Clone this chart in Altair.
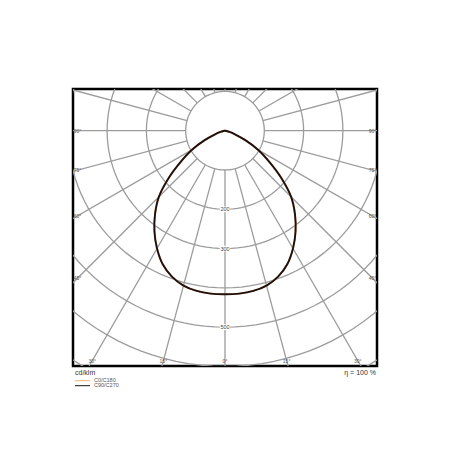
import altair as alt
import pandas as pd

# ---------------- data ----------------
gamma_deg = [0, 5, 10, 15, 20, 25, 30, 35, 40, 45, 50, 55, 60, 65, 70, 75, 80, 85, 90]
c0_c180 = [416, 416, 414, 408, 395, 375, 346, 313, 277, 238, 187, 137, 97, 57, 27, 12, 4, 1, 0]
c90_c270 = [416, 416, 414, 408, 395, 375, 346, 313, 277, 238, 187, 137, 97, 57, 27, 12, 4, 1, 0]
series_names = ["C0/C180", "C90/C270"]
series_colors = ["#f4b27a", "#1c1010"]

circle_values = [100, 200, 300, 400, 500, 600, 700]
circle_labels = [200, 300, 500]
spoke_angles = list(range(0, 360, 15))
side_label_angles = [90, 75, 60, 45]
bottom_label_angles = [-30, -15, 0, 15, 30]
unit_text = "cd/klm"
eff_text = "η = 100 %"

# ---------------- layout (view extent in cd/klm) ----------------
XMAX = 386.8
YTOP = 106.1
YBOT = -598.7
W, H = 304, 277
FONT = "Liberation Sans"
GRID = "#9c9c9c"

xs = alt.Scale(domain=[-XMAX, XMAX], nice=False, zero=False)
ys = alt.Scale(domain=[YBOT, YTOP], nice=False, zero=False)


def X(f):
    return alt.X(f, type="quantitative", scale=xs, axis=None)


def Y(f):
    return alt.Y(f, type="quantitative", scale=ys, axis=None)


# curve table
rows = []
for name, vals in zip(series_names, [c0_c180, c90_c270]):
    for g, v in zip(gamma_deg, vals):
        rows.append({"series": name, "a": g, "I": v})
        if g != 0:
            rows.append({"series": name, "a": -g, "I": v})
curve_df = pd.DataFrame(rows)

circ_df = pd.DataFrame(
    [{"r": r, "t": t} for r in circle_values for t in range(0, 361, 3)]
)
spoke_df = pd.DataFrame(
    [{"a": a, "r": r} for a in spoke_angles for r in (100, 900)]
)
vlab_df = pd.DataFrame({"v": circle_labels})
side_df = pd.DataFrame(
    [{"g": g, "s": s} for g in side_label_angles for s in (-1, 1)]
)
bot_df = pd.DataFrame({"g": bottom_label_angles})

circles = (
    alt.Chart(circ_df)
    .mark_line(clip=True, color=GRID, strokeWidth=1.3)
    .transform_calculate(
        x="datum.r * sin(datum.t * PI / 180)",
        y="-datum.r * cos(datum.t * PI / 180)",
    )
    .encode(x=X("x"), y=Y("y"), detail="r:N", order="t:Q")
)

spokes = (
    alt.Chart(spoke_df)
    .mark_line(clip=True, color=GRID, strokeWidth=1.3)
    .transform_calculate(
        x="datum.r * sin(datum.a * PI / 180)",
        y="-datum.r * cos(datum.a * PI / 180)",
    )
    .encode(x=X("x"), y=Y("y"), detail="a:N", order="r:Q")
)

vlab_bg = (
    alt.Chart(vlab_df)
    .mark_point(
        shape="M-1,-0.55H1V0.55H-1Z", filled=True, color="white", opacity=1, size=110
    )
    .transform_calculate(x="0", y="-datum.v")
    .encode(x=X("x"), y=Y("y"))
)
vlab = (
    alt.Chart(vlab_df)
    .mark_text(font=FONT, fontSize=5.5, color="#444444", baseline="middle")
    .transform_calculate(x="0", y="-datum.v")
    .encode(x=X("x"), y=Y("y"), text="v:Q")
)

side_lab = (
    alt.Chart(side_df)
    .mark_text(font=FONT, fontSize=5, color="#555555", baseline="middle")
    .transform_calculate(
        x=f"datum.s * {XMAX - 11.5}",
        y=f"-{XMAX - 11.5} / tan(datum.g * PI / 180)",
        lab="datum.g + '°'",
    )
    .encode(x=X("x"), y=Y("y"), text="lab:N")
)

bot_lab = (
    alt.Chart(bot_df)
    .mark_text(font=FONT, fontSize=5, color="#555555", baseline="middle")
    .transform_calculate(
        y=f"{YBOT + 13.5}",
        x=f"{-(YBOT + 13.5)} * tan(datum.g * PI / 180)",
        lab="abs(datum.g) + '°'",
    )
    .encode(x=X("x"), y=Y("y"), text="lab:N")
)

curves = (
    alt.Chart(curve_df)
    .mark_line(clip=True, strokeWidth=1.9, interpolate="catmull-rom")
    .transform_calculate(
        x="datum.I * sin(datum.a * PI / 180)",
        y="-datum.I * cos(datum.a * PI / 180)",
    )
    .encode(
        x=X("x"),
        y=Y("y"),
        color=alt.Color(
            "series:N",
            scale=alt.Scale(domain=series_names, range=series_colors),
            legend=None,
        ),
        detail="series:N",
        order="a:Q",
    )
)

foot_df = pd.DataFrame({"txt": [unit_text]})
unit_lab = (
    alt.Chart(foot_df)
    .mark_text(font=FONT, fontSize=7, color="#333333", align="left", baseline="middle")
    .encode(x=alt.value(2), y=alt.value(H + 6.5), text="txt:N")
)
eff_df = pd.DataFrame({"txt": [eff_text]})
eff_lab = (
    alt.Chart(eff_df)
    .mark_text(font=FONT, fontSize=7, color="#333333", align="right", baseline="middle")
    .encode(x=alt.value(W - 1), y=alt.value(H + 6.5), text="txt:N")
)

leg_df = pd.DataFrame({"series": series_names, "i": [0, 1]})
leg_lines = (
    alt.Chart(leg_df)
    .mark_rule(strokeWidth=1)
    .transform_calculate(ly="291.7 + 5 * datum.i")
    .encode(
        x=alt.value(2),
        x2=alt.value(17),
        y=alt.Y("ly:Q", scale=None, axis=None),
        color=alt.Color(
            "series:N",
            scale=alt.Scale(domain=series_names, range=series_colors),
            legend=None,
        ),
    )
)
leg_text = (
    alt.Chart(leg_df)
    .mark_text(font=FONT, fontSize=5.5, color="#555555", align="left", baseline="middle")
    .transform_calculate(ly="291.4 + 5 * datum.i")
    .encode(
        x=alt.value(21),
        y=alt.Y("ly:Q", scale=None, axis=None),
        text="series:N",
    )
)

plot = alt.layer(
    circles, spokes, vlab_bg, vlab, side_lab, bot_lab, curves
).resolve_scale(color="shared")

chart = (
    alt.layer(plot, unit_lab, eff_lab, leg_lines, leg_text)
    .resolve_scale(y="independent", x="independent")
    .properties(
        width=W,
        height=H,
        padding={"left": 65, "top": 81, "right": 65, "bottom": 76},
        autosize=alt.AutoSizeParams(type="none"),
        background="white",
    )
    .configure_view(stroke="black", strokeWidth=2.5)
)

chart.save("out.html", embed_options={"renderer": "svg", "actions": False})
